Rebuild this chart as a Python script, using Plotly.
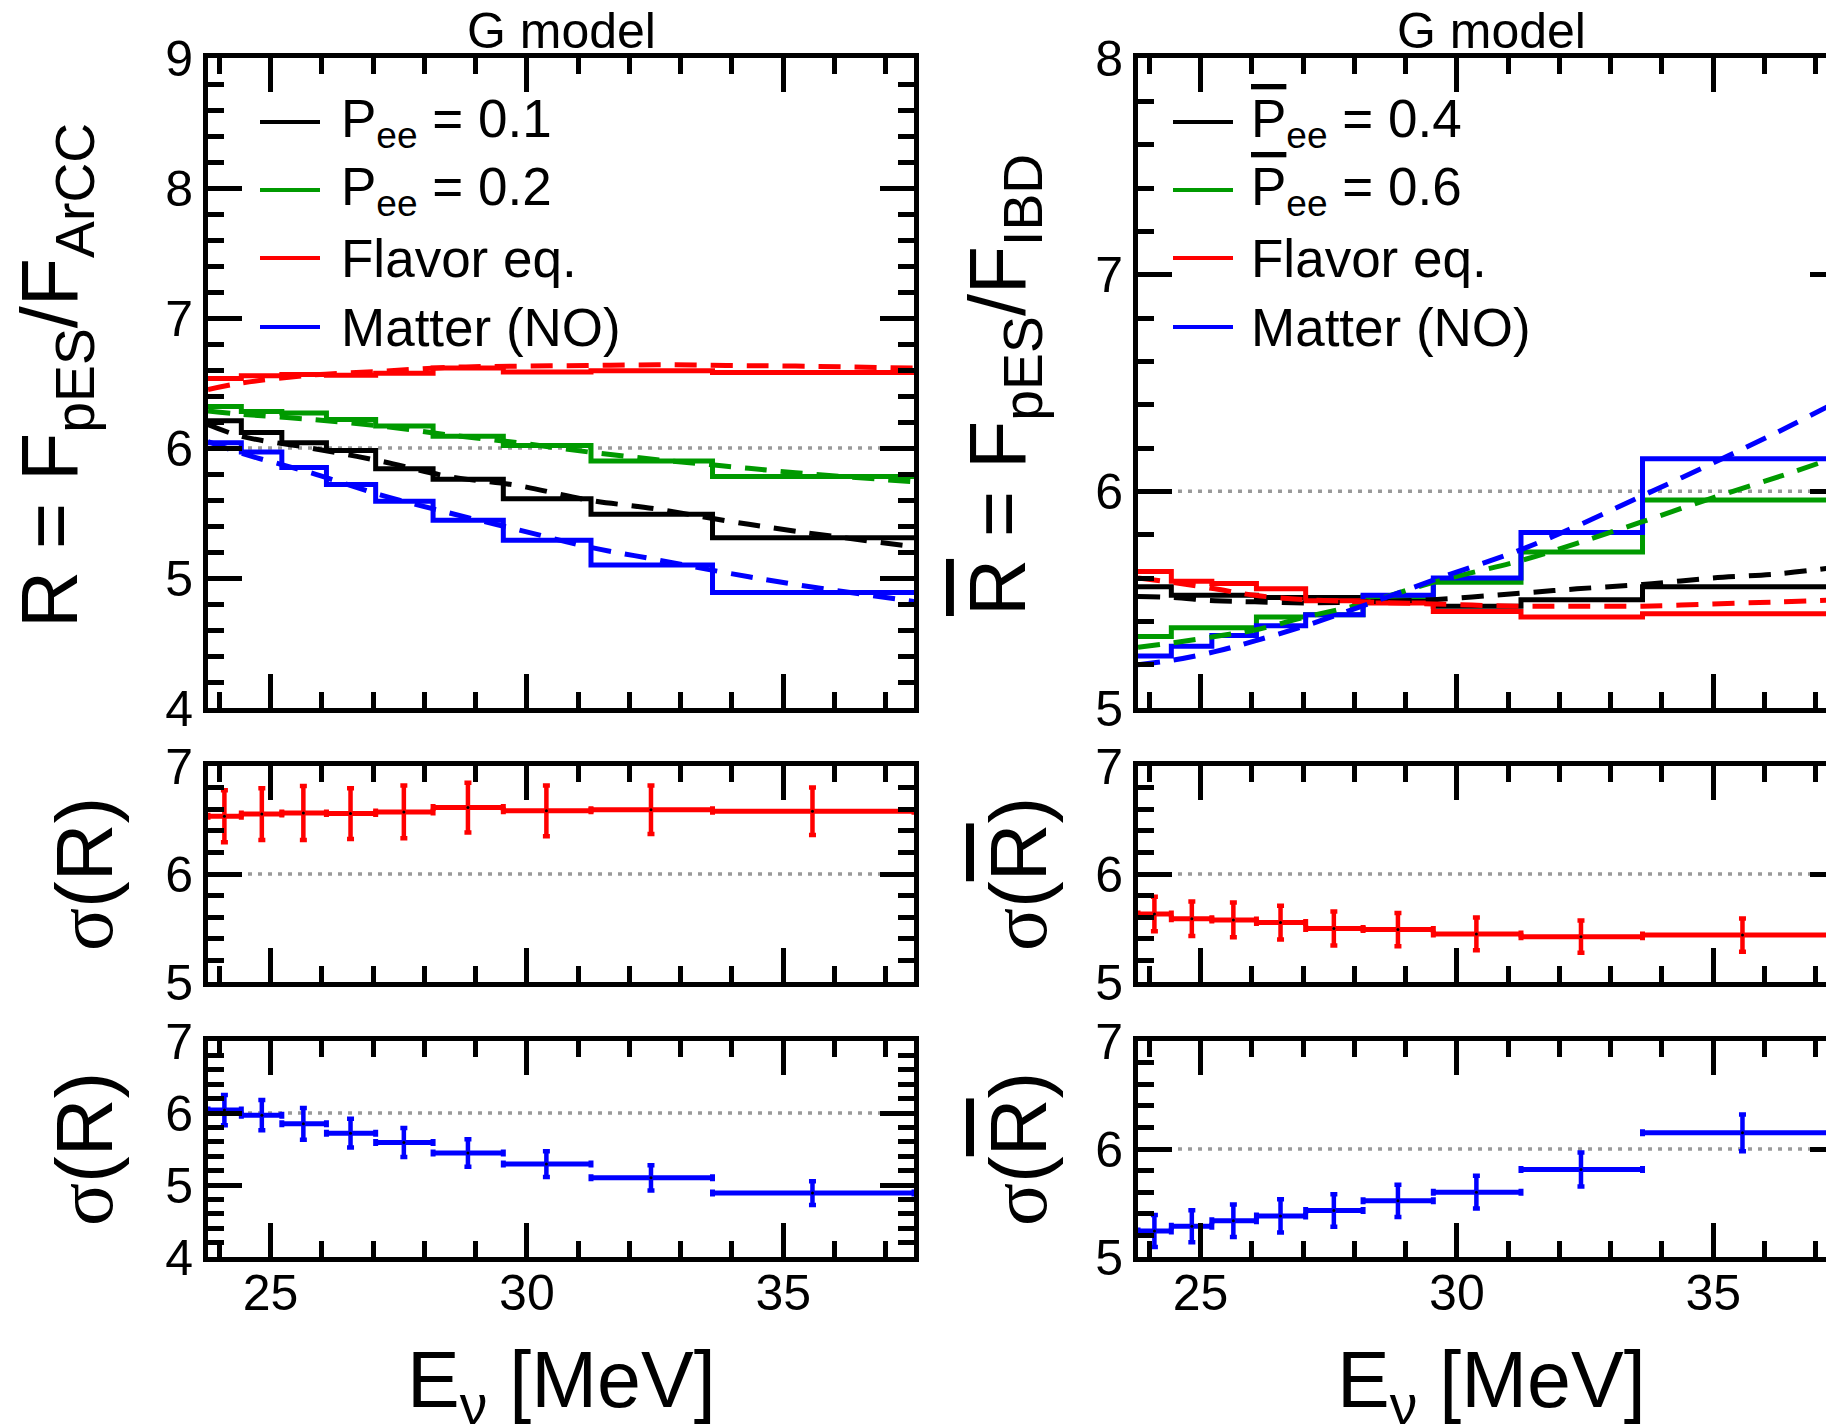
import plotly.graph_objects as go

# ---------------- data ----------------
E_EDGES = [23.78, 24.43, 25.22, 26.09, 27.05, 28.17, 29.54, 31.25, 33.62, 37.55]
E_CENTERS = [24.10, 24.83, 25.64, 26.56, 27.60, 28.85, 30.38, 32.42, 35.57]

# neutrino ratio R = F_pES / F_ArCC (histograms)
R_P01 = [6.21, 6.12, 6.04, 5.98, 5.84, 5.76, 5.61, 5.49, 5.31]
R_P02 = [6.32, 6.28, 6.27, 6.22, 6.17, 6.09, 6.02, 5.90, 5.78]
R_FEQ = [6.535, 6.555, 6.565, 6.56, 6.575, 6.615, 6.585, 6.595, 6.58]
R_MAT = [6.04, 5.97, 5.85, 5.72, 5.59, 5.445, 5.29, 5.10, 4.888]
ERR_R_FEQ = [0.24, 0.24, 0.25, 0.235, 0.245, 0.23, 0.235, 0.225, 0.22]
ERR_R_MAT = [0.21, 0.21, 0.22, 0.20, 0.20, 0.19, 0.18, 0.175, 0.165]

# neutrino ratio model curves (dashed)
DASH_E_L = [23.78, 24.43, 25.78, 27.14, 28.49, 29.84, 31.19, 32.54, 33.89, 35.24, 37.55]
R_P01_MODEL = [6.18, 6.09, 6.00, 5.90, 5.78, 5.71, 5.60, 5.53, 5.44, 5.36, 5.24]
R_P02_MODEL = [6.285, 6.26, 6.22, 6.17, 6.10, 6.04, 5.97, 5.91, 5.86, 5.81, 5.74]
R_FEQ_MODEL = [6.45, 6.50, 6.56, 6.59, 6.62, 6.63, 6.635, 6.64, 6.635, 6.63, 6.615]
R_MAT_MODEL = [6.05, 5.96, 5.81, 5.64, 5.50, 5.37, 5.24, 5.14, 5.04, 4.95, 4.82]

# antineutrino ratio Rbar = F_pES / F_IBD (histograms)
RB_P04 = [5.56, 5.52, 5.52, 5.51, 5.51, 5.50, 5.47, 5.50, 5.56]
RB_P06 = [5.33, 5.37, 5.37, 5.42, 5.43, 5.515, 5.58, 5.72, 5.96]
RB_FEQ = [5.63, 5.585, 5.575, 5.55, 5.495, 5.485, 5.445, 5.42, 5.435]
RB_MAT = [5.24, 5.285, 5.335, 5.38, 5.43, 5.52, 5.60, 5.81, 6.15]
ERR_RB_FEQ = [0.16, 0.16, 0.16, 0.157, 0.157, 0.155, 0.152, 0.15, 0.154]
ERR_RB_MAT = [0.148, 0.148, 0.15, 0.154, 0.15, 0.15, 0.152, 0.157, 0.17]

DASH_E_R = [23.78, 24.44, 25.28, 26.06, 27.05, 28.15, 29.54, 31.24, 32.34, 33.62, 34.99, 36.31, 37.55]
RB_P04_MODEL = [5.515, 5.51, 5.495, 5.49, 5.485, 5.49, 5.50, 5.53, 5.55, 5.57, 5.60, 5.62, 5.655]
RB_P06_MODEL = [5.28, 5.30, 5.33, 5.36, 5.42, 5.48, 5.58, 5.68, 5.76, 5.86, 5.97, 6.07, 6.17]
RB_FEQ_MODEL = [5.60, 5.58, 5.55, 5.52, 5.50, 5.49, 5.48, 5.47, 5.47, 5.47, 5.48, 5.49, 5.50]
RB_MAT_MODEL = [5.20, 5.22, 5.26, 5.31, 5.38, 5.47, 5.59, 5.73, 5.84, 5.98, 6.13, 6.28, 6.43]

X_RANGE = [23.78, 37.55]
X_TICKS = [25, 30, 35]
REF_LEVEL = 6

LEFT_LABELS = ["P<sub>ee</sub> = 0.1", "P<sub>ee</sub> = 0.2", "Flavor eq.", "Matter (NO)"]
OVL = '<span style="text-decoration:overline">P</span>'
RIGHT_LABELS = [OVL + "<sub>ee</sub> = 0.4", OVL + "<sub>ee</sub> = 0.6", "Flavor eq.", "Matter (NO)"]
COLORS = ["#000000", "#009a00", "#ff0000", "#0000ff"]

# ---------------- layout helpers ----------------
FONT = "Liberation Sans, Arial, Helvetica, sans-serif"
SERIF = "Liberation Serif"
W, H = 1850, 1417
OFF = 8  # body margin of the page


def px(p):
    return (p - OFF) / W


def py(p):
    return 1 - (p - OFF) / H


COLS = {"L": (208, 914), "R": (1138, 1844)}
ROWS = {"top": (58, 708), "mid": (766, 982), "bot": (1041, 1257)}

fig = go.Figure()

panels = [
    (1, "L", "top", [4, 9]),
    (2, "L", "mid", [5, 7]),
    (3, "L", "bot", [4, 7]),
    (4, "R", "top", [5, 8]),
    (5, "R", "mid", [5, 7]),
    (6, "R", "bot", [5, 7]),
]

axis_common = dict(
    showline=True, linewidth=5, linecolor="black", mirror="ticks",
    ticks="inside", tickwidth=4.5, tickcolor="black", ticklen=34,
    showgrid=False, zeroline=False, automargin=False,
    tickfont=dict(size=50, color="black", family=FONT),
)

for idx, col, row, yr in panels:
    x0, x1 = COLS[col]
    y0, y1 = ROWS[row]
    sfx = "" if idx == 1 else str(idx)
    fig.layout["xaxis" + sfx] = dict(
        axis_common, domain=[px(x0), px(x1)], range=X_RANGE, anchor="y" + sfx,
        tickmode="array", tickvals=X_TICKS, showticklabels=(row == "bot"),
        ticklabelstandoff=-12,
        minor=dict(ticks="inside", ticklen=16, tickwidth=4.5, tickcolor="black", dtick=1, tick0=25),
    )
    fig.layout["yaxis" + sfx] = dict(
        axis_common, domain=[py(y1), py(y0)], range=yr, anchor="x" + sfx,
        tickmode="linear", tick0=0, dtick=1,
        minor=dict(ticks="inside", ticklen=16, tickwidth=4.5, tickcolor="black", dtick=0.2, tick0=0),
    )
    fig.add_shape(type="line", xref=f"x{sfx} domain", yref=f"y{sfx}", x0=0, x1=1,
                  y0=REF_LEVEL, y1=REF_LEVEL, layer="below",
                  line=dict(color="#9a9a9a", width=3.5, dash="4px,6px"))


def steps(vals):
    return vals + [vals[-1]]


def add_hist_panel(ax, hists, models, dash_e):
    xa, ya = "x" + ax, "y" + ax
    for vals, c in zip(hists, COLORS):
        fig.add_trace(go.Scatter(x=E_EDGES, y=steps(vals), mode="lines", line_shape="hv",
                                 line=dict(color=c, width=5), xaxis=xa, yaxis=ya,
                                 showlegend=False, hoverinfo="skip"))
    for vals, c in zip(models, COLORS):
        fig.add_trace(go.Scatter(x=dash_e, y=vals, mode="lines", line_shape="spline",
                                 line=dict(color=c, width=5, dash="22px,14px"), xaxis=xa, yaxis=ya,
                                 showlegend=False, hoverinfo="skip"))


def add_err_panel(ax, vals, errs, color):
    plus = [E_EDGES[i + 1] - E_CENTERS[i] for i in range(len(E_CENTERS))]
    minus = [E_CENTERS[i] - E_EDGES[i] for i in range(len(E_CENTERS))]
    fig.add_trace(go.Scatter(
        x=E_CENTERS, y=vals, mode="markers", xaxis="x" + ax, yaxis="y" + ax,
        marker=dict(color="black", size=3),
        error_x=dict(type="data", symmetric=False, array=plus, arrayminus=minus,
                     color=color, thickness=5, width=3.5),
        error_y=dict(type="data", array=errs, color=color, thickness=4.5, width=3.5),
        showlegend=False, hoverinfo="skip"))


add_hist_panel("", [R_P01, R_P02, R_FEQ, R_MAT], [R_P01_MODEL, R_P02_MODEL, R_FEQ_MODEL, R_MAT_MODEL], DASH_E_L)
add_err_panel("2", R_FEQ, ERR_R_FEQ, COLORS[2])
add_err_panel("3", R_MAT, ERR_R_MAT, COLORS[3])
add_hist_panel("4", [RB_P04, RB_P06, RB_FEQ, RB_MAT], [RB_P04_MODEL, RB_P06_MODEL, RB_FEQ_MODEL, RB_MAT_MODEL], DASH_E_R)
add_err_panel("5", RB_FEQ, ERR_RB_FEQ, COLORS[2])
add_err_panel("6", RB_MAT, ERR_RB_MAT, COLORS[3])

# ---------------- texts ----------------
ann = []


def text(t, x, y, size, xanchor="center", yanchor="middle", angle=0, yshift=0):
    ann.append(dict(text=t, x=px(x), y=py(y), xref="paper", yref="paper", showarrow=False,
                    xanchor=xanchor, yanchor=yanchor, textangle=angle, yshift=yshift,
                    font=dict(size=size, color="black", family=FONT)))


for col in ("L", "R"):
    c = sum(COLS[col]) / 2
    text("G model", c, 61, 50, yanchor="bottom")
    text("E<sub>ν</sub> [MeV]", c, 1425, 79, yanchor="bottom", yshift=-13)

text("R = F<sub>pES</sub>/F<sub>ArCC</sub>", 55, 376, 79, angle=-90)
text('<span style="text-decoration:overline">R</span> = F<sub>pES</sub>/F<sub>IBD</sub>', 1004, 385, 79, angle=-90)
SIG = f'<span style="font-family:{SERIF}">σ</span>'
text(SIG + "(R)", 84, 874, 80, angle=-90)
text(SIG + "(R)", 84, 1149, 80, angle=-90)
RBAR = '<span style="text-decoration:overline">R</span>'
text(SIG + "(" + RBAR + ")", 1018, 874, 80, angle=-90)
text(SIG + "(" + RBAR + ")", 1018, 1149, 80, angle=-90)

LEG_Y = [122, 190, 258, 327]
for labels, (lx0, lx1, tx) in ((LEFT_LABELS, (260, 320, 339)), (RIGHT_LABELS, (1173, 1233, 1249))):
    for lab, yy, c in zip(labels, LEG_Y, COLORS):
        fig.add_shape(type="line", xref="paper", yref="paper", x0=px(lx0), x1=px(lx1),
                      y0=py(yy), y1=py(yy), line=dict(color=c, width=4))
        text(lab, tx, yy, 53, xanchor="left")

fig.update_layout(
    width=W, height=H, margin=dict(l=0, r=0, t=0, b=0, autoexpand=False),
    paper_bgcolor="white", plot_bgcolor="white",
    font=dict(family=FONT, color="black"),
    annotations=ann, showlegend=False,
)

fig.write_html("out.html")
